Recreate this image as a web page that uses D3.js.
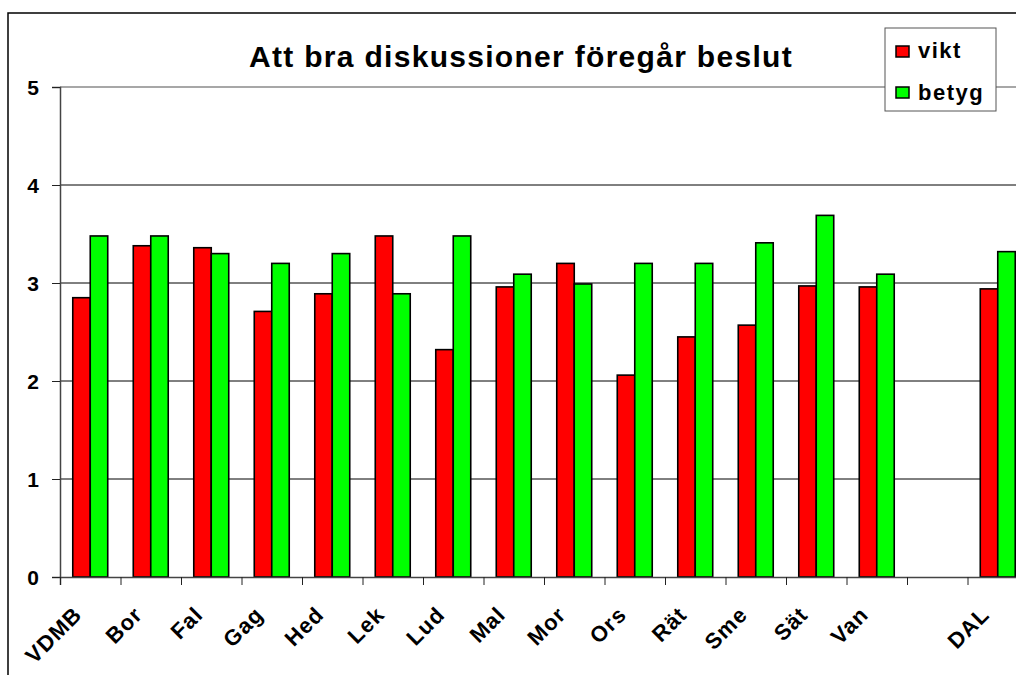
<!DOCTYPE html>
<html>
<head>
<meta charset="utf-8">
<script src="https://cdn.jsdelivr.net/npm/d3@7"></script>
<style>
  body { margin: 0; background: #fff; }
  svg { display: block; font-family: "Liberation Sans", Arial, sans-serif; }
</style>
</head>
<body>
<div class="chart"></div>
<script>
let FRAME_WIDTH = 1016;
let FRAME_HEIGHT = 675;
// plot area (runs a bit past the right edge, like the original)
let PLOT = {left: 60, right: 1028, top: 87, bottom: 577};

// data
const CATEGORIES = ["VDMB", "Bor", "Fal", "Gag", "Hed", "Lek", "Lud", "Mal",
                    "Mor", "Ors", "Rät", "Sme", "Sät", "Van", "", "DAL"];
const VIKT  = [2.85, 3.38, 3.36, 2.71, 2.89, 3.48, 2.32, 2.96,
               3.20, 2.06, 2.45, 2.57, 2.97, 2.96, null, 2.94];
const BETYG = [3.48, 3.48, 3.30, 3.20, 3.30, 2.89, 3.48, 3.09,
               2.99, 3.20, 3.20, 3.41, 3.69, 3.09, null, 3.32];
const SERIES = ["vikt", "betyg"];
const COLORS = ["#ff0000", "#00ff00"];
const Y_TICKS = [0, 1, 2, 3, 4, 5];
const TITLE = "Att bra diskussioner föregår beslut";

let FRAME = d3.select(".chart")
              .append("svg")
              .attr("width", FRAME_WIDTH)
              .attr("height", FRAME_HEIGHT);

// outer chart border
FRAME.append("path")
     .attr("d", "M8,700 L8,13 L1030,13")
     .attr("fill", "none")
     .attr("stroke", "#000")
     .attr("stroke-width", 1.5);

const X_SCALE = d3.scaleBand()
                  .domain(CATEGORIES)
                  .range([PLOT.left, PLOT.right]);

const X_SUB = d3.scaleBand()
                .domain(SERIES)
                .range([0, X_SCALE.bandwidth()])
                .paddingOuter(0.73);

const Y_SCALE = d3.scaleLinear()
                  .domain([0, 5])
                  .range([PLOT.bottom, PLOT.top]);

// gridlines (top one is the grey plot border)
FRAME.selectAll(".grid")
     .data(Y_TICKS.filter(d => d > 0))
     .enter()
     .append("line")
       .attr("x1", PLOT.left)
       .attr("x2", PLOT.right)
       .attr("y1", d => Y_SCALE(d))
       .attr("y2", d => Y_SCALE(d))
       .attr("stroke", d => d == 5 ? "#8a8a8a" : "#000")
       .attr("stroke-width", d => d == 5 ? 1.5 : 1);

// bars
let rows = CATEGORIES.map((c, i) => ({cat: c, vals: [VIKT[i], BETYG[i]]}));

let groups = FRAME.selectAll(".grp")
                  .data(rows)
                  .enter()
                  .append("g")
                  .attr("transform", d => "translate(" + X_SCALE(d.cat) + ",0)");

groups.selectAll("rect")
      .data(d => d.vals.map((v, j) => ({key: SERIES[j], val: v, color: COLORS[j]}))
                       .filter(e => e.val != null))
      .enter()
      .append("rect")
        .attr("x", d => X_SUB(d.key))
        .attr("y", d => Y_SCALE(d.val))
        .attr("width", X_SUB.bandwidth())
        .attr("height", d => PLOT.bottom - Y_SCALE(d.val))
        .attr("fill", d => d.color)
        .attr("stroke", "#000")
        .attr("stroke-width", 1.6);

// y axis
let yAxis = FRAME.append("g")
                 .attr("transform", "translate(" + PLOT.left + ",0)")
                 .call(d3.axisLeft(Y_SCALE).tickValues(Y_TICKS).tickSize(8).tickPadding(13)
                         .tickFormat(d3.format("d")));
yAxis.select(".domain").attr("stroke", "#444").attr("stroke-width", 1.5);
yAxis.selectAll(".tick line").attr("stroke", "#222");
yAxis.selectAll(".tick text")
     .attr("fill", "#000")
     .attr("dy", "0.36em")
     .style("font-size", "21px")
     .style("font-weight", "bold");

// x axis: tick marks between categories
const X_BOUNDS = d3.scaleLinear()
                   .domain([0, CATEGORIES.length])
                   .range([PLOT.left, PLOT.right]);

let xAxis = FRAME.append("g")
                 .attr("transform", "translate(0," + PLOT.bottom + ")")
                 .call(d3.axisBottom(X_BOUNDS).ticks(CATEGORIES.length).tickSize(8)
                         .tickFormat(""));
xAxis.select(".domain").attr("stroke", "#444").attr("stroke-width", 1.5);
xAxis.selectAll(".tick line").attr("stroke", "#222");

// rotated category labels
FRAME.selectAll(".xlab")
     .data(CATEGORIES.filter(c => c != ""))
     .enter()
     .append("text")
       .attr("transform", d => "translate(" + (X_SCALE(d) + X_SCALE.bandwidth() / 2 - 7) + ",616) rotate(-45)")
       .attr("text-anchor", "end")
       .style("font-size", "22px")
       .style("font-weight", "bold")
       .style("letter-spacing", "1px")
       .text(d => d);

// title
FRAME.append("text")
     .attr("x", 521)
     .attr("y", 67)
     .attr("text-anchor", "middle")
     .style("font-size", "30px")
     .style("font-weight", "bold")
     .style("letter-spacing", "1.3px")
     .text(TITLE);

// legend
let LEGEND = FRAME.append("g").attr("transform", "translate(885,28)");
LEGEND.append("rect")
      .attr("width", 111)
      .attr("height", 83)
      .attr("fill", "#fff")
      .attr("stroke", "#555")
      .attr("stroke-width", 1);

SERIES.forEach((s, i) => {
    LEGEND.append("rect")
          .attr("x", 11)
          .attr("y", 18 + i * 41)
          .attr("width", 13)
          .attr("height", 11)
          .attr("fill", COLORS[i])
          .attr("stroke", "#000")
          .attr("stroke-width", 1.5);
    LEGEND.append("text")
          .attr("x", 33)
          .attr("y", 30 + i * 42)
          .style("font-size", "22px")
          .style("font-weight", "bold")
          .style("letter-spacing", "1.5px")
          .text(s);
});
</script>
</body>
</html>
